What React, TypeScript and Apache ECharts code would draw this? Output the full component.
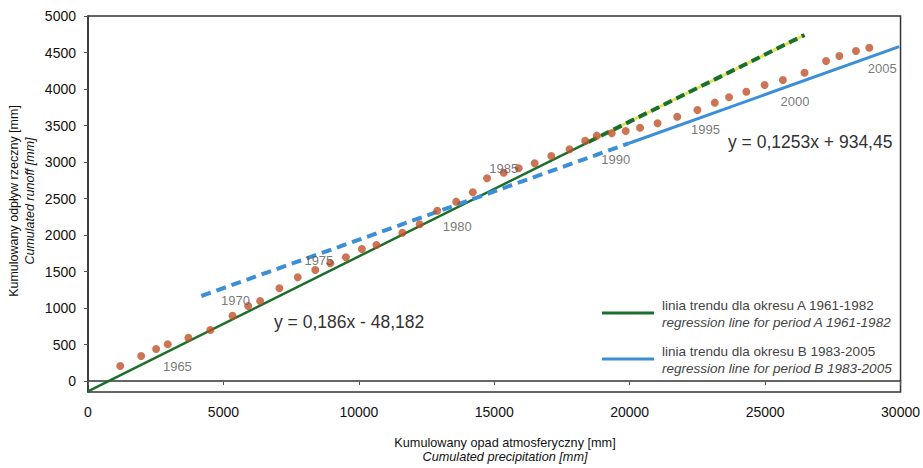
import React, { useEffect, useRef } from "react";
import * as echarts from "echarts";

// Cumulated precipitation [mm] (x) and cumulated runoff [mm] (y), 1961-2005
const precipitation = [
  1190, 1963, 2515, 2945, 3706, 4516, 5337, 5914, 6356, 7067,
  7743, 8393, 8945, 9522, 10111, 10650, 11607, 12246, 12895, 13594,
  14209, 14735, 15350, 15902, 16491, 17105, 17779, 18357, 18786, 19338,
  19852, 20382, 21030, 21755, 22502, 23142, 23669, 24306, 24983, 25657,
  26455, 27251, 27742, 28354, 28847,
];
const runoff = [
  206, 343, 439, 503, 594, 699, 895, 1028, 1096, 1270,
  1421, 1521, 1613, 1695, 1809, 1863, 2032, 2147, 2333, 2457,
  2585, 2777, 2854, 2914, 2982, 3082, 3174, 3292, 3361, 3393,
  3425, 3470, 3530, 3621, 3713, 3813, 3887, 3963, 4055, 4123,
  4223, 4384, 4452, 4521, 4566,
];
const firstYear = 1961;
const labelledYears = [1965, 1970, 1975, 1980, 1985, 1990, 1995, 2000, 2005];

// trend lines as drawn (end points)
const trendASolid = [[0, -140], [18478, 3274]];
const trendADashed = [[18478, 3274], [26455, 4740]];
const trendBDashed = [[4184, 1165], [19951, 3254]];
const trendBSolid = [[19951, 3254], [29950, 4580]];

const yTicks = [0, 500, 1000, 1500, 2000, 2500, 3000, 3500, 4000, 4500, 5000];

const eqA = "y = 0,186x - 48,182";
const eqB = "y = 0,1253x + 934,45";
const legendA = ["linia trendu dla okresu A 1961-1982", "regression line for period A 1961-1982"];
const legendB = ["linia trendu dla okresu B 1983-2005", "regression line for period B 1983-2005"];
const xTitle = ["Kumulowany opad atmosferyczny [mm]", "Cumulated precipitation [mm]"];
const yTitle = ["Kumulowany odpływ rzeczny [mm]", "Cumulated runoff [mm]"];

// label placement (style, not data)
const yearLabelOffsets: Record<number, [number, number]> = {
  1965: [-11, 29],
  1970: [-44, 12],
  1975: [-43, 12],
  1980: [1, 25],
  1985: [-31, 5],
  1990: [4, 26],
  1995: [8, 20],
  2000: [12, 21],
  2005: [13, 21],
};

const GREEN = "#1c6f2a";
const YELLOW = "#dfe35a";
const BLUE = "#3a8fd8";
const DOT = "#c0512b";

export default function App() {
  const ref = useRef<HTMLDivElement>(null);
  useEffect(() => {
    if (!ref.current) return;
    const chart = echarts.init(ref.current, undefined, { renderer: "svg" });
    const font = "Arial, 'Liberation Sans', sans-serif";
    const scatterData = precipitation.map((x, i) => {
      const year = firstYear + i;
      const item: any = { value: [x, runoff[i]] };
      if (labelledYears.includes(year)) {
        item.label = {
          show: true,
          formatter: String(year),
          position: "inside",
          offset: yearLabelOffsets[year],
          color: "#555",
          fontSize: 13,
          fontFamily: font,
        };
      }
      return item;
    });
    const plain = (v: number) => String(v);
    chart.setOption({
      animation: false,
      backgroundColor: "#fff",
      grid: {
        left: 88,
        right: 20,
        top: 16,
        bottom: 76,
        show: true,
        borderColor: "#333",
        borderWidth: 1.5,
      },
      xAxis: {
        type: "value",
        min: 0,
        max: 30000,
        interval: 5000,
        axisLine: { show: true, lineStyle: { color: "#333", width: 1.5 } },
        axisTick: { show: true, length: 4, lineStyle: { color: "#555" } },
        splitLine: { show: false },
        axisLabel: { color: "#111", fontSize: 14, margin: 13, fontFamily: font, formatter: plain },
      },
      yAxis: {
        type: "value",
        min: -150,
        max: 5000,
        axisLine: { show: true, lineStyle: { color: "#333", width: 1.5 } },
        axisTick: { show: true, length: 4, customValues: yTicks, lineStyle: { color: "#555" } },
        splitLine: { show: false },
        axisLabel: { color: "#111", fontSize: 14, margin: 12, fontFamily: font, customValues: yTicks, formatter: plain },
      },
      series: [
        {
          type: "line",
          data: trendADashed,
          showSymbol: false,
          lineStyle: { color: YELLOW, width: 3 },
          z: 2,
        },
        {
          type: "line",
          data: trendADashed,
          showSymbol: false,
          lineStyle: { color: GREEN, width: 4, type: [9, 5] },
          z: 3,
        },
        {
          type: "line",
          data: trendASolid,
          showSymbol: false,
          lineStyle: { color: GREEN, width: 2.5 },
          z: 3,
        },
        {
          type: "line",
          data: trendBDashed,
          showSymbol: false,
          lineStyle: { color: BLUE, width: 4, type: [10, 6] },
          z: 3,
        },
        {
          type: "line",
          data: trendBSolid,
          showSymbol: false,
          lineStyle: { color: BLUE, width: 3 },
          z: 3,
        },
        {
          type: "scatter",
          data: scatterData,
          symbolSize: 8,
          itemStyle: { color: DOT },
          z: 5,
        },
      ],
      graphic: [
        { type: "text", x: 274, y: 322, style: { text: eqA, fill: "#333", font: `17.5px ${font}`, textVerticalAlign: "middle" } },
        { type: "text", x: 728, y: 142, style: { text: eqB, fill: "#333", font: `17.5px ${font}`, textVerticalAlign: "middle" } },
        { type: "line", shape: { x1: 602, y1: 313, x2: 654, y2: 313 }, style: { stroke: GREEN, lineWidth: 3 } },
        { type: "line", shape: { x1: 602, y1: 359, x2: 654, y2: 359 }, style: { stroke: BLUE, lineWidth: 3 } },
        { type: "text", x: 662, y: 305, style: { text: legendA[0], fill: "#444", font: `13.5px ${font}`, textVerticalAlign: "middle" } },
        { type: "text", x: 662, y: 322, style: { text: legendA[1], fill: "#444", font: `italic 13.5px ${font}`, textVerticalAlign: "middle" } },
        { type: "text", x: 662, y: 351, style: { text: legendB[0], fill: "#444", font: `13.5px ${font}`, textVerticalAlign: "middle" } },
        { type: "text", x: 662, y: 368, style: { text: legendB[1], fill: "#444", font: `italic 13.5px ${font}`, textVerticalAlign: "middle" } },
        { type: "text", x: 505, y: 443, style: { text: xTitle[0], fill: "#111", font: `12.7px ${font}`, textAlign: "center", textVerticalAlign: "middle" } },
        { type: "text", x: 505, y: 457, style: { text: xTitle[1], fill: "#111", font: `italic 12.7px ${font}`, textAlign: "center", textVerticalAlign: "middle" } },
        { type: "text", x: 14, y: 201, rotation: Math.PI / 2, style: { text: yTitle[0], fill: "#111", font: `12.5px ${font}`, textAlign: "center", textVerticalAlign: "middle" } },
        { type: "text", x: 30, y: 201, rotation: Math.PI / 2, style: { text: yTitle[1], fill: "#111", font: `italic 12.5px ${font}`, textAlign: "center", textVerticalAlign: "middle" } },
      ],
    });
    return () => chart.dispose();
  }, []);
  return (
    <div
      ref={ref}
      style={{ position: "fixed", left: 0, top: 0, width: 923, height: 468, background: "#fff" }}
    />
  );
}
